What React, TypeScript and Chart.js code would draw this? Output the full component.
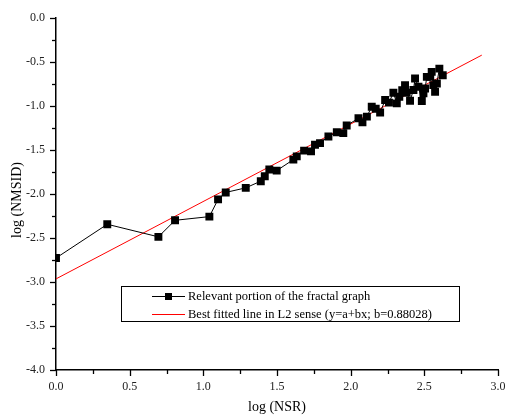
import React, { useEffect, useRef } from "react";
import { Chart, registerables } from "chart.js";

Chart.register(...registerables);

const nsr = [
  0, 0.348, 0.695, 0.808, 1.041, 1.1, 1.152, 1.288, 1.39, 1.417, 1.448, 1.498,
  1.611, 1.634, 1.684, 1.731, 1.758, 1.792, 1.849, 1.906, 1.95, 1.973, 2.053,
  2.08, 2.11, 2.143, 2.17, 2.2, 2.234, 2.26, 2.29, 2.313, 2.33, 2.35, 2.369,
  2.38, 2.403, 2.426, 2.437, 2.46, 2.483, 2.494, 2.505, 2.517, 2.54, 2.55,
  2.561, 2.573, 2.585, 2.602, 2.625,
];
const nmsid = [
  -2.727, -2.343, -2.486, -2.298, -2.256, -2.06, -1.981, -1.929, -1.853,
  -1.797, -1.721, -1.733, -1.608, -1.571, -1.506, -1.514, -1.439, -1.42,
  -1.345, -1.296, -1.307, -1.22, -1.138, -1.183, -1.119, -1.006, -1.03,
  -1.073, -0.93, -0.96, -0.847, -0.968, -0.893, -0.82, -0.761, -0.847, -0.938,
  -0.817, -0.685, -0.78, -0.942, -0.855, -0.8, -0.667, -0.667, -0.61, -0.761,
  -0.836, -0.742, -0.573, -0.648,
];
const fitX = [0, 2.89];
const fitY = [-2.964, -0.42];

const seriesLabels = [
  "Relevant portion of the fractal graph",
  "Best fitted line in L2 sense (y=a+bx; b=0.88028)",
];
const xTitle = "log (NSR)";
const yTitle = "log (NMSID)";
const xTicks = [0, 0.5, 1.0, 1.5, 2.0, 2.5, 3.0];
const yTicks = [0, -0.5, -1.0, -1.5, -2.0, -2.5, -3.0, -3.5, -4.0];

const FONT = "'Liberation Serif', 'Times New Roman', serif";

export default function App() {
  const ref = useRef<HTMLCanvasElement | null>(null);

  useEffect(() => {
    document.body.style.margin = "0";
    const canvas = ref.current!;
    const ticksPlugin = {
      id: "minorTicks",
      afterDraw(chart: any) {
        const ctx = chart.ctx;
        const xs = chart.scales.x;
        const ys = chart.scales.y;
        const area = chart.chartArea;
        ctx.save();
        ctx.strokeStyle = "#000";
        ctx.lineWidth = 1.3;
        for (let v = 0; v <= 3.0001; v += 0.25) {
          const major = Math.abs(v * 2 - Math.round(v * 2)) < 1e-6;
          const px = Math.round(xs.getPixelForValue(v)) + 0.5;
          ctx.beginPath();
          ctx.moveTo(px, area.bottom);
          ctx.lineTo(px, area.bottom + (major ? 6 : 4));
          ctx.stroke();
        }
        for (let v = 0; v >= -4.0001; v -= 0.25) {
          const major = Math.abs(v * 2 - Math.round(v * 2)) < 1e-6;
          const py = Math.round(ys.getPixelForValue(v)) + 0.5;
          ctx.beginPath();
          ctx.moveTo(area.left, py);
          ctx.lineTo(area.left - (major ? 6 : 4), py);
          ctx.stroke();
        }
        // axis titles
        ctx.fillStyle = "#000";
        ctx.font = "14px " + FONT;
        ctx.textAlign = "center";
        ctx.textBaseline = "alphabetic";
        ctx.fillText(xTitle, (area.left + area.right) / 2, 411);
        ctx.save();
        ctx.translate(21, 200);
        ctx.rotate(-Math.PI / 2);
        ctx.fillText(yTitle, 0, 0);
        ctx.restore();
        // legend
        const lx = 121.5, ly = 286.5, lw = 338, lh = 35;
        ctx.fillStyle = "#fff";
        ctx.fillRect(lx, ly, lw, lh);
        ctx.strokeStyle = "#000";
        ctx.lineWidth = 1;
        ctx.strokeRect(lx, ly, lw, lh);
        const ds = chart.data.datasets;
        const rows = [296, 314];
        ctx.font = "12.5px " + FONT;
        ctx.textAlign = "left";
        ctx.textBaseline = "middle";
        ds.forEach((d: any, i: number) => {
          const y = rows[i];
          ctx.strokeStyle = d.borderColor;
          ctx.lineWidth = 1;
          ctx.beginPath();
          ctx.moveTo(152, y + 0.5);
          ctx.lineTo(185, y + 0.5);
          ctx.stroke();
          if (i === 0) {
            ctx.fillStyle = "#000";
            ctx.fillRect(165, y - 3, 7, 7);
          }
          ctx.fillStyle = "#000";
          ctx.fillText(d.label, 188, y + 0.5);
        });
        ctx.restore();
      },
    };

    const chart = new Chart(canvas, {
      type: "scatter",
      data: {
        datasets: [
          {
            label: seriesLabels[0],
            data: nsr.map((x, i) => ({ x, y: nmsid[i] })),
            showLine: true,
            borderColor: "#000",
            backgroundColor: "#000",
            borderWidth: 1,
            pointStyle: "rect",
            pointRadius: 5.6,
            pointBorderWidth: 0,
          },
          {
            label: seriesLabels[1],
            data: fitX.map((x, i) => ({ x, y: fitY[i] })),
            showLine: true,
            borderColor: "#ff0000",
            backgroundColor: "#ff0000",
            borderWidth: 1,
            pointRadius: 0,
          },
        ],
      },
      options: {
        animation: false,
        responsive: false,
        devicePixelRatio: 1,
        layout: { padding: { left: 0, right: 8, top: 16, bottom: 0 } },
        plugins: {
          legend: { display: false },
          tooltip: { enabled: false },
        },
        scales: {
          x: {
            type: "linear",
            min: 0,
            max: 3.0,
            afterBuildTicks(scale: any) {
              scale.ticks = xTicks.map((v) => ({ value: v }));
            },
            afterFit(scale: any) {
              scale.height = 47;
              scale.paddingLeft = 0;
              scale.paddingRight = 0;
            },
            grid: { display: true, drawOnChartArea: false, drawTicks: false },
            border: { display: true, color: "#000", width: 1.5 },
            ticks: {
              color: "#222",
              font: { family: FONT, size: 12 },
              padding: 10,
              maxRotation: 0,
              autoSkip: false,
              callback: (v: any) => Number(v).toFixed(1),
            },
          },
          y: {
            type: "linear",
            min: -4.0,
            max: 0,
            afterBuildTicks(scale: any) {
              scale.ticks = yTicks.map((v) => ({ value: v }));
            },
            afterFit(scale: any) {
              scale.width = 56;
            },
            grid: { display: true, drawOnChartArea: false, drawTicks: false },
            border: { display: true, color: "#000", width: 1.5 },
            ticks: {
              color: "#222",
              font: { family: FONT, size: 12 },
              padding: 11,
              autoSkip: false,
              callback: (v: any) => Number(v).toFixed(1),
            },
          },
        },
      },
      plugins: [ticksPlugin],
    });
    return () => chart.destroy();
  }, []);

  return (
    <div style={{ position: "absolute", left: 0, top: 0, width: 506, height: 417, background: "#fff" }}>
      <canvas ref={ref} width={506} height={417} style={{ width: 506, height: 417 }} />
    </div>
  );
}
